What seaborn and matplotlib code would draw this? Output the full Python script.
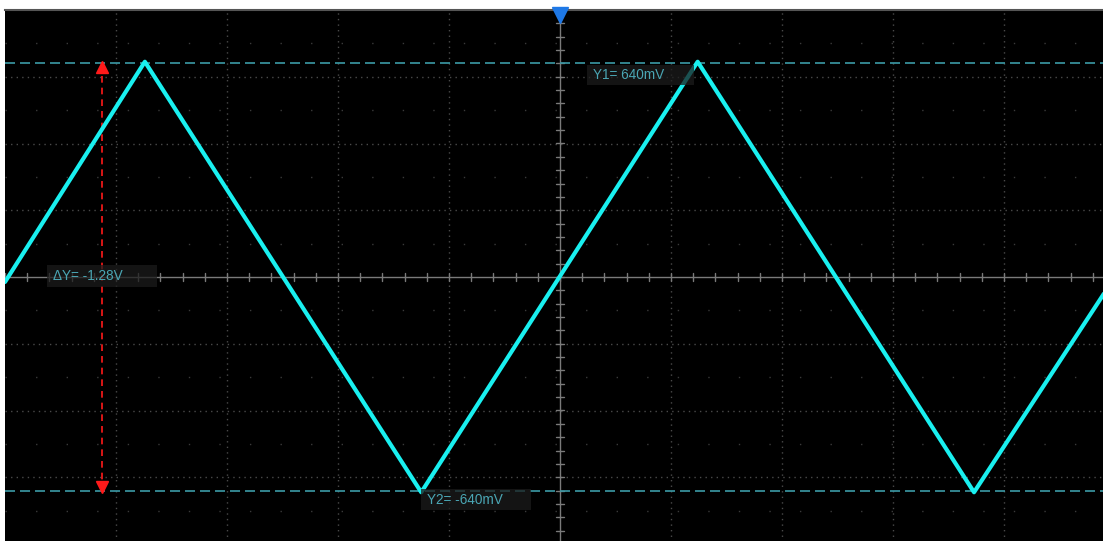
import numpy as np
import pandas as pd
import seaborn as sns
import matplotlib.pyplot as plt
from matplotlib.patches import Rectangle

# Triangle wave corners (x in divisions, y in volts)
time_div = [-5.0, -3.74, -1.25, 1.24, 3.73, 4.9]
volts = [-0.015, 0.645, -0.645, 0.645, -0.645, -0.05]

# Cursor values
y1_cursor = 0.64
y2_cursor = -0.64
cursor_x = -4.13
delta_label = "ΔY= -1.28V"
y1_label = "Y1= 640mV"
y2_label = "Y2= -640mV"

wave = pd.DataFrame({'t': time_div, 'v': volts})

sns.set_style("dark")
plt.rcParams['font.family'] = ['Liberation Sans', 'DejaVu Sans']

fig = plt.figure(figsize=(11.03, 5.41), dpi=100)
fig.patch.set_facecolor('white')
ax = fig.add_axes([5 / 1103, -3 / 541, 1110 / 1103, 534 / 541])
ax.set_facecolor('black')
ax.set_xlim(-5, 5)
ax.set_ylim(-0.8, 0.8)

# Graticule: dotted division lines, sparse dots on half divisions
for x in np.arange(-4, 5):
    if x != 0:
        ax.axvline(x, color='#4a4a4a', lw=1, ls=(0, (1, 3)), zorder=1)
for y in np.arange(-0.6, 0.61, 0.2):
    if abs(y) > 1e-6:
        ax.axhline(y, color='#4a4a4a', lw=1, ls=(0, (1, 3)), zorder=1)
for y in np.arange(-0.7, 0.71, 0.2):
    ax.axhline(y, color='#3a3a3a', lw=1, ls=(0, (1, 21)), zorder=1)

# Center cross with minor ticks
ax.axhline(0, color='#7a7a7a', lw=1, zorder=1)
ax.axvline(0, color='#7a7a7a', lw=1, zorder=1)
for x in np.arange(-5, 5.01, 0.2):
    ax.plot([x, x], [-0.012, 0.012], color='#7a7a7a', lw=1, zorder=1)
for y in np.arange(-0.8, 0.81, 0.04):
    ax.plot([-0.04, 0.04], [y, y], color='#7a7a7a', lw=1, zorder=1)

# Cursor lines
ax.axhline(y1_cursor, color='#3c9aa6', lw=1.2, ls=(0, (6, 3)), zorder=2)
ax.axhline(y2_cursor, color='#3c9aa6', lw=1.2, ls=(0, (6, 3)), zorder=2)

# Waveform
sns.lineplot(data=wave, x='t', y='v', color='#19f0f0', lw=3.0, ax=ax,
             zorder=4, sort=False)

# Delta marker (red dashed with arrow heads)
ax.plot([cursor_x, cursor_x], [y2_cursor, y1_cursor], color='#ff1a1a',
        lw=1.2, ls=(0, (4, 3)), zorder=3)
ax.plot(cursor_x, y1_cursor - 0.012, marker='^', color='#ff1a1a', ms=9,
        zorder=3)
ax.plot(cursor_x, y2_cursor + 0.012, marker='v', color='#ff1a1a', ms=9,
        zorder=3)

# Trigger position marker
ax.plot(0, 0.785, marker='v', color='#1e78e6', ms=11, clip_on=False,
        zorder=5)

# Cursor readout boxes (x0, y0, width, height) and their labels
boxes = [(0.24, 0.576, 0.97, 0.06, y1_label),
         (-1.25, -0.699, 0.99, 0.063, y2_label),
         (-4.62, -0.030, 0.99, 0.066, delta_label)]
for bx, by, bw, bh, label in boxes:
    ax.add_patch(Rectangle((bx, by), bw, bh, fc='#1c1c1c', ec='none',
                           alpha=0.75, zorder=5))
    ax.text(bx + 0.055, by + bh / 2, label, color='#4aa6b4', fontsize=9.8,
            va='center', ha='left', zorder=6)

for side in ['left', 'right', 'bottom']:
    ax.spines[side].set_visible(False)
ax.spines['top'].set_color('#555555')
ax.spines['top'].set_linewidth(1.5)
ax.set_xticks([])
ax.set_yticks([])
ax.set_xlabel('')
ax.set_ylabel('')

fig.savefig('out.png', dpi=100)
